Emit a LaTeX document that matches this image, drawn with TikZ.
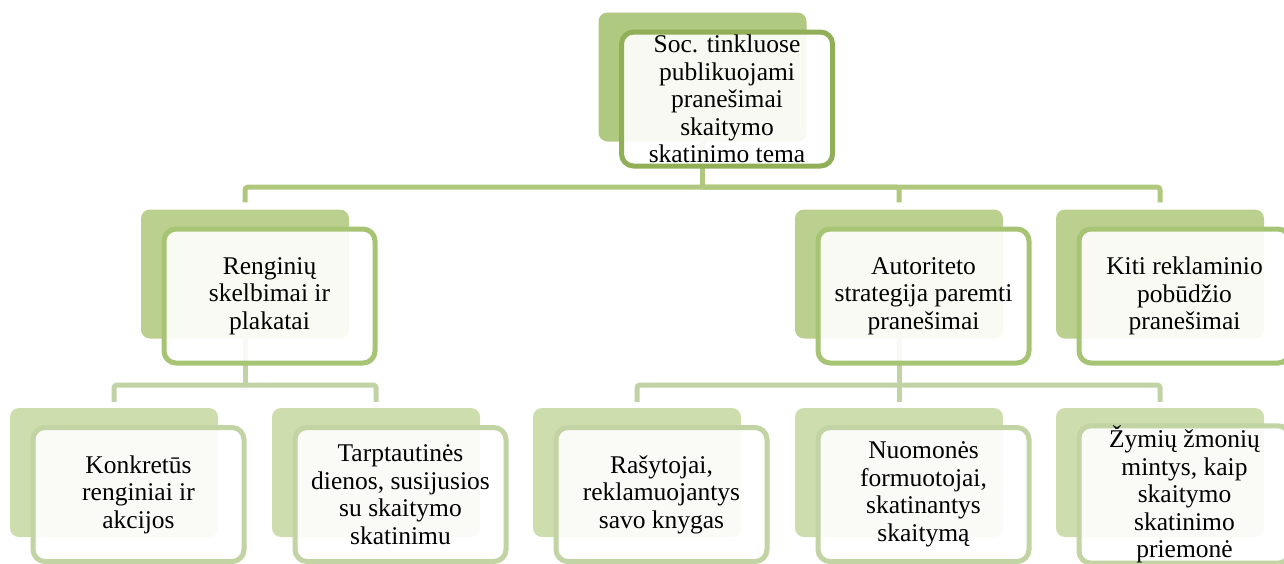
\documentclass[tikz,border=0pt]{standalone}
\usepackage{fontspec}
\setmainfont{Liberation Serif}
\definecolor{bgA}{RGB}{176,201,129}
\definecolor{bdA}{RGB}{145,175,88}
\definecolor{lnA}{RGB}{175,200,125}
\definecolor{bgB}{RGB}{187,208,142}
\definecolor{bdB}{RGB}{166,196,116}
\definecolor{lnB}{RGB}{176,200,128}
\definecolor{bgC}{RGB}{205,221,174}
\definecolor{bdC}{RGB}{194,211,164}
\definecolor{lnC}{RGB}{193,210,165}
\tikzset{
  bgbox/.style={rectangle, rounded corners=9pt, minimum width=208pt, minimum height=129pt, inner sep=0pt},
  fgbox/.style={rectangle, rounded corners=12pt, line width=5pt, fill=white, fill opacity=0.9, text opacity=1,
     minimum width=211pt, minimum height=134pt, inner sep=0pt, align=center,
     font=\fontsize{25.5}{27.5}\selectfont},
  lvA/.style={bgbox, fill=bgA},
  lvB/.style={bgbox, fill=bgB},
  lvC/.style={bgbox, fill=bgC},
  fgA/.style={fgbox, draw=bdA},
  fgB/.style={fgbox, draw=bdB},
  fgC/.style={fgbox, draw=bdC},
  connA/.style={draw=lnA, line width=5pt, rounded corners=3pt, shorten >=7pt},
  connB/.style={draw=lnC, line width=5pt, rounded corners=3pt, shorten >=6pt},
}
\begin{document}
\begin{tikzpicture}[x=1pt,y=-1pt]
\useasboundingbox (0,0) rectangle (1284,563);
\clip (0,0) rectangle (1284,563);
% bus coordinates
\coordinate (busA) at (702.5,187);
\coordinate (busL) at (245,385);
\coordinate (busR) at (899,385);
% background boxes
\node[lvA] (b1) at (702.5,77) {};
\node[lvB] (b2) at (245,274) {};
\node[lvB] (b3) at (899,274) {};
\node[lvB] (b4) at (1160,274) {};
\node[lvC] (c1) at (114,472.5) {};
\node[lvC] (c2) at (376,472.5) {};
\node[lvC] (c3) at (637,472.5) {};
\node[lvC] (c4) at (899,472.5) {};
\node[lvC] (c5) at (1160,472.5) {};
% connectors
\draw[connA, shorten >=0pt] (b1.south) -- (busA);
\draw[connA] (busA) -| (b2.north);
\draw[connA] (busA) -| (b3.north);
\draw[connA] (busA) -| (b4.north);
\draw[connB, shorten >=0pt] (b2.south) -- (busL);
\draw[connB] (busL) -| (c1.north);
\draw[connB] (busL) -| (c2.north);
\draw[connB, shorten >=0pt] (b3.south) -- (busR);
\draw[connB] (busR) -| (c3.north);
\draw[connB] (busR) -- (c4.north);
\draw[connB] (busR) -| (c5.north);
% foreground boxes
\node[fgA] (f1) at ([shift={(24.5,22)}]b1.center) {Soc. tinkluose\\publikuojami\\pranešimai\\skaitymo\\skatinimo tema};
\node[fgB] (f2) at ([shift={(24.5,22)}]b2.center) {Renginių\\skelbimai ir\\plakatai};
\node[fgB] (f3) at ([shift={(24.5,22)}]b3.center) {Autoriteto\\strategija paremti\\pranešimai};
\node[fgB] (f4) at ([shift={(24.5,22)}]b4.center) {Kiti reklaminio\\pobūdžio\\pranešimai};
\node[fgC] (g1) at ([shift={(24.5,22)}]c1.center) {Konkretūs\\renginiai ir\\akcijos};
\node[fgC] (g2) at ([shift={(24.5,22)}]c2.center) {Tarptautinės\\dienos, susijusios\\su skaitymo\\skatinimu};
\node[fgC] (g3) at ([shift={(24.5,22)}]c3.center) {Rašytojai,\\reklamuojantys\\savo knygas};
\node[fgC] (g4) at ([shift={(24.5,22)}]c4.center) {Nuomonės\\formuotojai,\\skatinantys\\skaitymą};
\node[fgC] (g5) at ([shift={(24.5,22)}]c5.center) {Žymių žmonių\\mintys, kaip\\skaitymo\\skatinimo\\priemonė};
\end{tikzpicture}
\end{document}
